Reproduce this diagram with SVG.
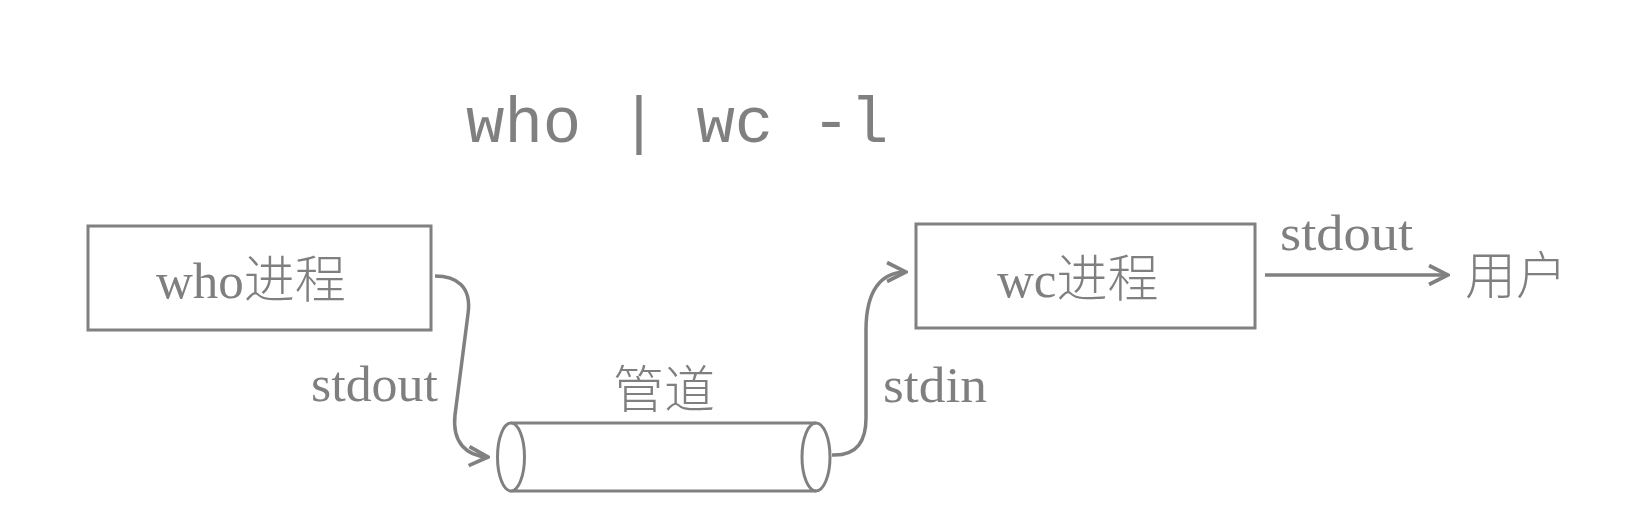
<svg xmlns="http://www.w3.org/2000/svg" width="1645" height="526" viewBox="0 0 1645 526">
<style>
.box{fill:#fff;stroke:#808080;stroke-width:3}
.lbl{font-family:"Liberation Serif","Noto Sans CJK SC",serif;font-size:51px;fill:#7f7f7f}
.cjk{font-family:"Noto Sans CJK SC","Liberation Serif",sans-serif;font-size:51px;fill:#7f7f7f;font-weight:300}
.con{fill:none;stroke:#808080;stroke-width:3.5}
</style>
<defs>
<marker id="arr" viewBox="0 0 12 12" refX="11" refY="6" markerWidth="6.5" markerHeight="6.5" markerUnits="strokeWidth" orient="auto">
<path d="M1,1 L11,6 L1,11" fill="none" stroke="#808080" stroke-width="2"/>
</marker>
</defs>
<rect width="1645" height="526" fill="#fff"/>
<text x="466" y="142" font-family="Liberation Mono, monospace" font-size="64" fill="#808080">who | wc -l</text>
<g id="who">
<rect class="box" x="88" y="226" width="343" height="104"/>
<text class="lbl" x="156" y="298">who<tspan class="cjk">进程</tspan></text>
</g>
<g id="wc">
<rect class="box" x="916" y="224" width="339" height="104"/>
<text class="lbl" x="997" y="297">wc<tspan class="cjk">进程</tspan></text>
</g>
<g id="pipe">
<path d="M511,423 L816,423 M511,491 L816,491" fill="none" stroke="#808080" stroke-width="3"/>
<ellipse cx="511" cy="457" rx="13.5" ry="34" fill="#fff" stroke="#808080" stroke-width="3"/>
<path d="M816,423 A14,34 0 0 1 816,491" fill="none" stroke="#808080" stroke-width="3"/>
<path d="M816,423 A14,34 0 0 0 816,491" fill="none" stroke="#808080" stroke-width="3"/>
<text class="cjk" x="613" y="408">管道</text>
</g>
<g id="user">
<text class="cjk" x="1465" y="294">用户</text>
</g>
<g id="connectors">
<path class="con" d="M435,276 C456,276 472,286 468,314 L455,415 C452,442 466,456 488,457" marker-end="url(#arr)"/>
<path class="con" d="M832,455 C858,456 866,440 866,418 L866,330 C866,292 880,272 906,272" marker-end="url(#arr)"/>
<path class="con" d="M1265,275 L1448,275" marker-end="url(#arr)"/>
<text class="lbl" x="311" y="401" textLength="127" lengthAdjust="spacingAndGlyphs">stdout</text>
<text class="lbl" x="883" y="402" textLength="104" lengthAdjust="spacingAndGlyphs">stdin</text>
<text class="lbl" x="1280" y="250" textLength="133" lengthAdjust="spacingAndGlyphs">stdout</text>
</g>
</svg>
